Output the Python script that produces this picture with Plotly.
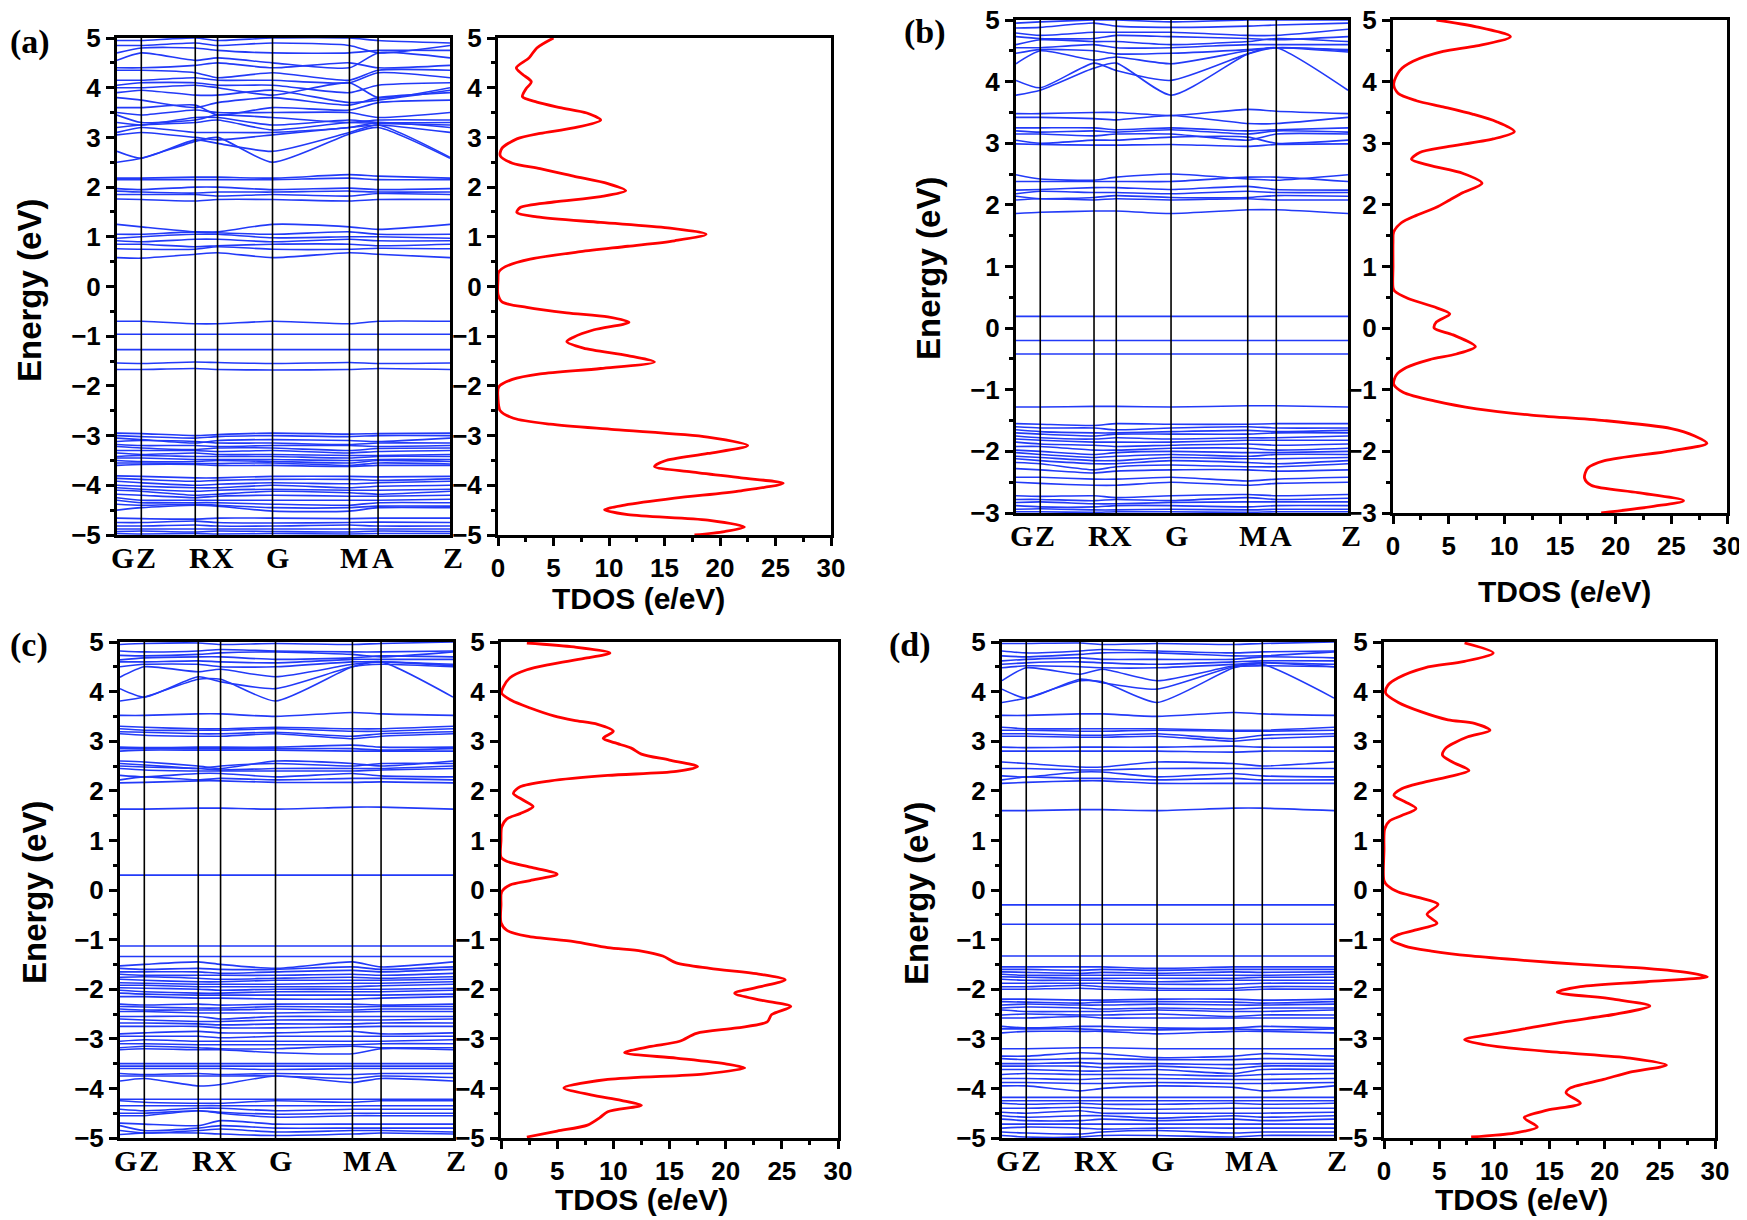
import plotly.graph_objects as go

W, H = 1747, 1220

# ---------------- data ----------------
K_POS = [0.0, 0.073, 0.235, 0.302, 0.467, 0.698, 0.784, 1.0]
K_LABELS = ["G", "Z", "R", "X", "G", "M", "A", "Z"]

BANDS_A = [
    [2.5, 2.58, 2.92, 3.0, 2.5, 3.07, 3.2, 2.58],
    [2.72, 2.58, 2.95, 2.88, 2.72, 3.1, 3.25, 2.6],
    [3.05, 3.1, 3.0, 2.95, 3.05, 3.2, 3.25, 3.1],
    [3.1, 3.2, 3.1, 3.1, 3.1, 3.2, 3.3, 3.2],
    [3.2, 3.25, 3.3, 3.35, 3.15, 3.3, 3.28, 3.25],
    [3.3, 3.25, 3.4, 3.4, 3.25, 3.35, 3.3, 3.3],
    [3.45, 3.3, 3.35, 3.45, 3.4, 3.3, 3.35, 3.35],
    [3.5, 3.45, 3.55, 3.5, 3.5, 3.5, 3.4, 3.5],
    [3.6, 3.6, 3.65, 3.45, 3.6, 3.55, 3.7, 3.75],
    [3.8, 3.75, 3.6, 3.7, 3.8, 3.65, 3.8, 3.9],
    [3.9, 3.95, 3.85, 3.85, 3.95, 3.7, 3.75, 3.95],
    [4.0, 4.0, 4.05, 4.0, 3.85, 4.1, 3.8, 4.0],
    [4.05, 4.1, 4.1, 4.05, 4.05, 3.9, 4.05, 4.1],
    [4.15, 4.15, 4.2, 4.15, 4.15, 4.1, 4.3, 4.2],
    [4.35, 4.35, 4.3, 4.2, 4.3, 4.15, 4.35, 4.35],
    [4.4, 4.4, 4.45, 4.5, 4.4, 4.5, 4.4, 4.45],
    [4.55, 4.7, 4.55, 4.6, 4.5, 4.4, 4.7, 4.6],
    [4.7, 4.8, 4.8, 4.75, 4.7, 4.7, 4.75, 4.75],
    [4.85, 4.85, 4.9, 4.85, 4.9, 4.85, 4.7, 4.85],
    [4.95, 4.95, 5.0, 4.95, 5.0, 5.0, 4.95, 4.9],
    [2.18, 2.18, 2.2, 2.2, 2.18, 2.25, 2.22, 2.18],
    [2.15, 2.15, 2.15, 2.15, 2.15, 2.18, 2.15, 2.15],
    [1.97, 1.95, 2.0, 2.0, 1.95, 1.98, 1.95, 1.97],
    [1.92, 1.9, 1.88, 1.9, 1.9, 1.92, 1.9, 1.9],
    [1.85, 1.85, 1.85, 1.82, 1.85, 1.82, 1.87, 1.85],
    [1.76, 1.75, 1.72, 1.75, 1.75, 1.72, 1.75, 1.75],
    [1.25, 1.2, 1.1, 1.1, 1.25, 1.2, 1.15, 1.25],
    [1.05, 1.05, 1.1, 1.08, 1.05, 1.1, 1.05, 1.05],
    [0.97, 1.0, 1.05, 1.05, 0.98, 1.0, 1.0, 0.97],
    [0.92, 0.9, 0.95, 0.95, 0.9, 0.95, 0.92, 0.92],
    [0.85, 0.85, 0.8, 0.82, 0.85, 0.85, 0.82, 0.85],
    [0.76, 0.75, 0.75, 0.8, 0.75, 0.75, 0.77, 0.76],
    [0.58, 0.57, 0.65, 0.68, 0.58, 0.68, 0.65, 0.58],
    [-0.7, -0.7, -0.75, -0.75, -0.7, -0.75, -0.7, -0.7],
    [-0.96, -0.96, -0.96, -0.96, -0.96, -0.96, -0.96, -0.96],
    [-1.27, -1.27, -1.27, -1.27, -1.27, -1.27, -1.27, -1.27],
    [-1.54, -1.55, -1.52, -1.53, -1.55, -1.53, -1.55, -1.54],
    [-1.67, -1.67, -1.65, -1.67, -1.68, -1.67, -1.65, -1.67],
    [-2.95, -2.96, -3.0, -2.98, -2.95, -2.97, -2.96, -2.95],
    [-3.0, -3.02, -3.05, -3.02, -3.0, -3.02, -3.0, -3.0],
    [-3.05, -3.08, -3.15, -3.1, -3.08, -3.1, -3.12, -3.05],
    [-3.12, -3.1, -3.12, -3.15, -3.15, -3.18, -3.15, -3.15],
    [-3.18, -3.2, -3.2, -3.22, -3.2, -3.2, -3.22, -3.2],
    [-3.22, -3.25, -3.28, -3.25, -3.25, -3.3, -3.26, -3.25],
    [-3.3, -3.3, -3.3, -3.32, -3.3, -3.35, -3.32, -3.3],
    [-3.35, -3.38, -3.35, -3.38, -3.38, -3.4, -3.4, -3.38],
    [-3.42, -3.4, -3.42, -3.42, -3.42, -3.45, -3.42, -3.42],
    [-3.45, -3.45, -3.48, -3.48, -3.48, -3.5, -3.48, -3.48],
    [-3.5, -3.52, -3.52, -3.5, -3.52, -3.55, -3.5, -3.52],
    [-3.55, -3.55, -3.56, -3.56, -3.55, -3.6, -3.55, -3.57],
    [-3.6, -3.58, -3.58, -3.6, -3.6, -3.62, -3.6, -3.6],
    [-3.81, -3.82, -3.85, -3.85, -3.82, -3.82, -3.83, -3.82],
    [-3.86, -3.88, -3.92, -3.9, -3.88, -3.88, -3.9, -3.87],
    [-3.92, -3.95, -4.0, -3.98, -3.95, -3.97, -3.95, -3.92],
    [-4.0, -4.02, -4.05, -4.05, -4.0, -4.05, -4.02, -4.0],
    [-4.05, -4.08, -4.12, -4.1, -4.08, -4.1, -4.1, -4.08],
    [-4.1, -4.12, -4.2, -4.18, -4.12, -4.15, -4.18, -4.12],
    [-4.18, -4.2, -4.25, -4.22, -4.2, -4.22, -4.22, -4.2],
    [-4.25, -4.3, -4.3, -4.3, -4.3, -4.3, -4.3, -4.28],
    [-4.3, -4.35, -4.35, -4.35, -4.38, -4.4, -4.35, -4.35],
    [-4.38, -4.4, -4.38, -4.4, -4.45, -4.45, -4.42, -4.42],
    [-4.5, -4.45, -4.4, -4.42, -4.52, -4.52, -4.45, -4.45],
    [-4.66, -4.67, -4.68, -4.66, -4.66, -4.67, -4.66, -4.66],
    [-4.75, -4.75, -4.72, -4.75, -4.76, -4.75, -4.74, -4.75],
    [-4.82, -4.82, -4.8, -4.82, -4.82, -4.8, -4.82, -4.82],
    [-4.88, -4.88, -4.88, -4.88, -4.88, -4.88, -4.88, -4.88],
    [-4.93, -4.92, -4.94, -4.92, -4.93, -4.94, -4.92, -4.93],
    [-4.97, -4.98, -4.97, -4.98, -4.97, -4.98, -4.97, -4.97],
]

BANDS_B = [
    [3.78, 3.86, 4.22, 4.3, 3.78, 4.45, 4.55, 3.86],
    [4.02, 3.9, 4.3, 4.18, 4.02, 4.45, 4.55, 4.5],
    [4.29, 4.5, 4.35, 4.4, 4.29, 4.5, 4.55, 4.48],
    [4.46, 4.52, 4.5, 4.45, 4.46, 4.52, 4.55, 4.52],
    [4.55, 4.55, 4.6, 4.55, 4.55, 4.6, 4.6, 4.6],
    [4.6, 4.68, 4.65, 4.65, 4.6, 4.65, 4.7, 4.65],
    [4.73, 4.7, 4.7, 4.75, 4.73, 4.7, 4.68, 4.73],
    [4.79, 4.75, 4.8, 4.8, 4.8, 4.75, 4.75, 4.85],
    [4.87, 4.88, 4.95, 4.9, 4.88, 4.9, 4.92, 4.95],
    [4.95, 4.97, 5.0, 5.0, 4.97, 5.0, 5.0, 5.0],
    [3.48, 3.48, 3.5, 3.5, 3.45, 3.55, 3.52, 3.48],
    [3.42, 3.42, 3.4, 3.38, 3.45, 3.32, 3.32, 3.42],
    [3.25, 3.25, 3.25, 3.22, 3.25, 3.2, 3.22, 3.25],
    [3.2, 3.18, 3.2, 3.18, 3.22, 3.15, 3.2, 3.18],
    [3.15, 3.15, 3.12, 3.15, 3.15, 3.05, 3.15, 3.15],
    [3.05, 3.0, 3.05, 3.05, 3.1, 3.1, 3.0, 3.05],
    [2.99, 2.98, 2.97, 2.97, 2.98, 2.95, 2.98, 2.99],
    [2.49, 2.42, 2.4, 2.45, 2.5, 2.42, 2.4, 2.49],
    [2.38, 2.38, 2.38, 2.38, 2.38, 2.45, 2.45, 2.38],
    [2.24, 2.25, 2.28, 2.28, 2.25, 2.3, 2.25, 2.24],
    [2.18, 2.22, 2.2, 2.2, 2.18, 2.22, 2.2, 2.2],
    [2.14, 2.1, 2.12, 2.15, 2.12, 2.12, 2.15, 2.14],
    [2.08, 2.1, 2.08, 2.1, 2.08, 2.1, 2.08, 2.08],
    [1.86, 1.88, 1.9, 1.9, 1.86, 1.92, 1.92, 1.86],
    [0.19, 0.19, 0.19, 0.19, 0.19, 0.19, 0.19, 0.19],
    [-0.2, -0.2, -0.2, -0.2, -0.2, -0.2, -0.2, -0.2],
    [-0.42, -0.42, -0.42, -0.42, -0.42, -0.42, -0.42, -0.42],
    [-1.28, -1.28, -1.27, -1.27, -1.28, -1.26, -1.26, -1.28],
    [-1.55, -1.56, -1.58, -1.55, -1.56, -1.56, -1.55, -1.55],
    [-1.6, -1.62, -1.62, -1.65, -1.62, -1.6, -1.62, -1.62],
    [-1.65, -1.68, -1.7, -1.7, -1.68, -1.66, -1.68, -1.66],
    [-1.7, -1.72, -1.75, -1.72, -1.72, -1.72, -1.7, -1.7],
    [-1.75, -1.78, -1.8, -1.78, -1.8, -1.78, -1.78, -1.75],
    [-1.8, -1.82, -1.85, -1.85, -1.85, -1.82, -1.82, -1.82],
    [-1.85, -1.88, -1.9, -1.92, -1.9, -1.88, -1.9, -1.88],
    [-1.92, -1.92, -1.98, -1.98, -1.95, -1.95, -1.98, -1.95],
    [-1.98, -2.0, -2.05, -2.02, -2.0, -2.02, -2.02, -2.0],
    [-2.02, -2.05, -2.1, -2.08, -2.05, -2.08, -2.05, -2.05],
    [-2.08, -2.1, -2.15, -2.15, -2.1, -2.12, -2.12, -2.1],
    [-2.12, -2.15, -2.2, -2.2, -2.15, -2.18, -2.2, -2.15],
    [-2.18, -2.2, -2.3, -2.25, -2.22, -2.25, -2.25, -2.2],
    [-2.28, -2.3, -2.35, -2.32, -2.3, -2.3, -2.32, -2.3],
    [-2.42, -2.42, -2.45, -2.45, -2.42, -2.48, -2.45, -2.42],
    [-2.5, -2.52, -2.55, -2.55, -2.5, -2.55, -2.52, -2.5],
    [-2.72, -2.73, -2.72, -2.75, -2.72, -2.7, -2.72, -2.7],
    [-2.78, -2.78, -2.8, -2.78, -2.8, -2.75, -2.78, -2.76],
    [-2.83, -2.82, -2.85, -2.85, -2.83, -2.82, -2.82, -2.82],
    [-2.88, -2.9, -2.9, -2.88, -2.88, -2.9, -2.88, -2.88],
    [-2.94, -2.93, -2.95, -2.95, -2.94, -2.95, -2.94, -2.94],
    [-2.98, -2.98, -2.99, -2.98, -2.98, -2.99, -2.98, -2.98],
]

BANDS_C = [
    [3.81, 3.89, 4.25, 4.25, 3.81, 4.5, 4.6, 3.89],
    [4.06, 3.89, 4.3, 4.2, 4.06, 4.5, 4.55, 4.5],
    [4.29, 4.5, 4.4, 4.45, 4.3, 4.55, 4.6, 4.52],
    [4.5, 4.55, 4.55, 4.5, 4.5, 4.6, 4.6, 4.55],
    [4.6, 4.6, 4.62, 4.6, 4.58, 4.65, 4.65, 4.65],
    [4.64, 4.68, 4.7, 4.7, 4.65, 4.68, 4.72, 4.7],
    [4.73, 4.72, 4.75, 4.78, 4.8, 4.75, 4.7, 4.8],
    [4.82, 4.8, 4.82, 4.85, 4.82, 4.8, 4.8, 4.82],
    [4.95, 4.97, 4.98, 4.95, 4.97, 4.95, 4.97, 5.0],
    [3.52, 3.52, 3.55, 3.55, 3.5, 3.58, 3.55, 3.52],
    [3.3, 3.28, 3.25, 3.25, 3.28, 3.25, 3.25, 3.3],
    [3.25, 3.22, 3.22, 3.22, 3.25, 3.2, 3.2, 3.25],
    [3.19, 3.18, 3.15, 3.15, 3.18, 3.1, 3.15, 3.19],
    [3.15, 3.12, 3.1, 3.1, 3.15, 3.05, 3.1, 3.15],
    [2.88, 2.87, 2.88, 2.88, 2.88, 2.92, 2.88, 2.88],
    [2.85, 2.85, 2.85, 2.85, 2.85, 2.85, 2.82, 2.85],
    [2.8, 2.82, 2.82, 2.82, 2.82, 2.8, 2.8, 2.8],
    [2.6, 2.58, 2.5, 2.45, 2.6, 2.55, 2.5, 2.6],
    [2.55, 2.52, 2.45, 2.5, 2.55, 2.5, 2.55, 2.55],
    [2.5, 2.48, 2.45, 2.42, 2.45, 2.45, 2.45, 2.5],
    [2.45, 2.42, 2.4, 2.4, 2.4, 2.4, 2.42, 2.45],
    [2.31, 2.28, 2.35, 2.35, 2.28, 2.35, 2.3, 2.28],
    [2.22, 2.28, 2.22, 2.25, 2.22, 2.25, 2.25, 2.22],
    [2.16, 2.17, 2.2, 2.2, 2.17, 2.17, 2.18, 2.16],
    [1.63, 1.63, 1.65, 1.65, 1.63, 1.67, 1.67, 1.63],
    [0.3, 0.3, 0.3, 0.3, 0.3, 0.3, 0.3, 0.3],
    [-1.13, -1.13, -1.13, -1.13, -1.13, -1.13, -1.13, -1.13],
    [-1.34, -1.34, -1.34, -1.34, -1.34, -1.34, -1.34, -1.34],
    [-1.53, -1.5, -1.45, -1.5, -1.58, -1.45, -1.55, -1.45],
    [-1.58, -1.6, -1.58, -1.6, -1.6, -1.55, -1.6, -1.55],
    [-1.65, -1.65, -1.65, -1.68, -1.65, -1.62, -1.65, -1.6],
    [-1.7, -1.72, -1.72, -1.72, -1.72, -1.7, -1.72, -1.68],
    [-1.76, -1.75, -1.78, -1.8, -1.78, -1.76, -1.78, -1.75],
    [-1.8, -1.82, -1.85, -1.85, -1.82, -1.82, -1.82, -1.8],
    [-1.87, -1.88, -1.9, -1.9, -1.9, -1.88, -1.88, -1.85],
    [-1.92, -1.92, -1.95, -1.95, -1.95, -1.95, -1.93, -1.9],
    [-1.97, -1.98, -2.0, -2.02, -2.0, -2.0, -2.0, -1.98],
    [-2.02, -2.05, -2.08, -2.08, -2.05, -2.05, -2.05, -2.02],
    [-2.08, -2.1, -2.12, -2.12, -2.12, -2.12, -2.12, -2.1],
    [-2.15, -2.15, -2.18, -2.18, -2.2, -2.2, -2.18, -2.15],
    [-2.3, -2.32, -2.3, -2.32, -2.3, -2.3, -2.32, -2.3],
    [-2.35, -2.36, -2.38, -2.38, -2.35, -2.36, -2.35, -2.35],
    [-2.4, -2.42, -2.42, -2.42, -2.4, -2.42, -2.4, -2.4],
    [-2.45, -2.45, -2.48, -2.48, -2.48, -2.46, -2.45, -2.45],
    [-2.55, -2.55, -2.55, -2.6, -2.55, -2.55, -2.55, -2.55],
    [-2.6, -2.62, -2.65, -2.65, -2.62, -2.62, -2.62, -2.6],
    [-2.68, -2.68, -2.7, -2.72, -2.7, -2.7, -2.68, -2.68],
    [-2.75, -2.75, -2.75, -2.78, -2.78, -2.76, -2.75, -2.75],
    [-2.9, -2.88, -2.85, -2.88, -2.88, -2.85, -2.9, -2.88],
    [-2.95, -2.95, -2.95, -2.98, -2.95, -2.95, -2.95, -2.95],
    [-3.05, -3.02, -3.05, -3.05, -3.05, -3.05, -3.05, -3.02],
    [-3.1, -3.1, -3.12, -3.12, -3.12, -3.12, -3.1, -3.1],
    [-3.18, -3.15, -3.18, -3.2, -3.2, -3.15, -3.18, -3.18],
    [-3.22, -3.2, -3.22, -3.22, -3.28, -3.3, -3.2, -3.22],
    [-3.5, -3.5, -3.5, -3.5, -3.5, -3.5, -3.5, -3.5],
    [-3.55, -3.55, -3.55, -3.55, -3.55, -3.55, -3.55, -3.55],
    [-3.6, -3.6, -3.6, -3.6, -3.62, -3.6, -3.6, -3.6],
    [-3.7, -3.72, -3.7, -3.72, -3.7, -3.72, -3.7, -3.7],
    [-3.75, -3.75, -3.75, -3.75, -3.75, -3.8, -3.75, -3.78],
    [-3.85, -3.8, -3.95, -3.92, -3.75, -3.88, -3.8, -3.85],
    [-4.22, -4.22, -4.22, -4.22, -4.22, -4.22, -4.22, -4.22],
    [-4.25, -4.28, -4.3, -4.3, -4.25, -4.28, -4.25, -4.25],
    [-4.35, -4.35, -4.35, -4.35, -4.35, -4.35, -4.35, -4.35],
    [-4.42, -4.45, -4.4, -4.4, -4.45, -4.42, -4.42, -4.42],
    [-4.5, -4.5, -4.45, -4.48, -4.52, -4.5, -4.5, -4.5],
    [-4.55, -4.55, -4.45, -4.5, -4.58, -4.55, -4.55, -4.55],
    [-4.7, -4.72, -4.75, -4.65, -4.72, -4.72, -4.72, -4.72],
    [-4.75, -4.85, -4.8, -4.75, -4.8, -4.8, -4.8, -4.8],
    [-4.85, -4.9, -4.85, -4.82, -4.88, -4.85, -4.85, -4.88],
    [-4.93, -4.9, -4.9, -4.92, -4.95, -4.92, -4.9, -4.92],
]

BANDS_D = [
    [3.78, 3.87, 4.22, 4.2, 3.78, 4.48, 4.55, 3.87],
    [4.05, 3.87, 4.25, 4.18, 4.05, 4.5, 4.52, 4.5],
    [4.22, 4.48, 4.35, 4.45, 4.22, 4.52, 4.58, 4.5],
    [4.48, 4.52, 4.5, 4.48, 4.48, 4.55, 4.58, 4.55],
    [4.55, 4.58, 4.6, 4.58, 4.55, 4.6, 4.62, 4.62],
    [4.62, 4.65, 4.68, 4.65, 4.65, 4.65, 4.7, 4.68],
    [4.72, 4.7, 4.75, 4.78, 4.78, 4.72, 4.72, 4.8],
    [4.82, 4.78, 4.82, 4.85, 4.82, 4.78, 4.8, 4.82],
    [4.97, 4.97, 4.98, 4.95, 4.97, 4.95, 4.97, 5.0],
    [3.52, 3.52, 3.55, 3.55, 3.5, 3.58, 3.55, 3.52],
    [3.28, 3.25, 3.25, 3.25, 3.25, 3.22, 3.22, 3.28],
    [3.22, 3.22, 3.2, 3.2, 3.22, 3.2, 3.2, 3.22],
    [3.15, 3.15, 3.12, 3.12, 3.15, 3.05, 3.12, 3.15],
    [3.1, 3.1, 3.08, 3.08, 3.1, 3.0, 3.05, 3.1],
    [2.88, 2.87, 2.88, 2.88, 2.88, 2.9, 2.88, 2.88],
    [2.8, 2.8, 2.8, 2.8, 2.8, 2.78, 2.8, 2.8],
    [2.58, 2.55, 2.48, 2.48, 2.58, 2.55, 2.5, 2.58],
    [2.45, 2.45, 2.42, 2.42, 2.45, 2.45, 2.45, 2.45],
    [2.3, 2.28, 2.38, 2.38, 2.28, 2.35, 2.3, 2.28],
    [2.22, 2.28, 2.25, 2.25, 2.22, 2.25, 2.22, 2.22],
    [2.15, 2.17, 2.2, 2.2, 2.15, 2.15, 2.15, 2.15],
    [1.6, 1.6, 1.62, 1.62, 1.6, 1.65, 1.65, 1.6],
    [-0.3, -0.3, -0.3, -0.3, -0.3, -0.3, -0.3, -0.3],
    [-0.69, -0.69, -0.69, -0.69, -0.69, -0.69, -0.69, -0.69],
    [-1.33, -1.33, -1.33, -1.33, -1.33, -1.33, -1.33, -1.33],
    [-1.55, -1.55, -1.55, -1.55, -1.58, -1.55, -1.55, -1.55],
    [-1.6, -1.6, -1.62, -1.6, -1.62, -1.6, -1.6, -1.6],
    [-1.65, -1.66, -1.68, -1.66, -1.68, -1.65, -1.66, -1.65],
    [-1.7, -1.72, -1.72, -1.72, -1.72, -1.72, -1.72, -1.7],
    [-1.75, -1.76, -1.78, -1.78, -1.78, -1.78, -1.76, -1.76],
    [-1.8, -1.82, -1.82, -1.82, -1.85, -1.82, -1.82, -1.82],
    [-1.88, -1.88, -1.88, -1.88, -1.9, -1.9, -1.88, -1.88],
    [-1.95, -1.95, -1.92, -1.95, -1.98, -1.98, -1.95, -1.95],
    [-2.0, -2.0, -1.98, -2.0, -2.02, -2.02, -2.0, -2.0],
    [-2.2, -2.2, -2.22, -2.22, -2.2, -2.2, -2.22, -2.2],
    [-2.25, -2.26, -2.28, -2.26, -2.25, -2.26, -2.28, -2.25],
    [-2.32, -2.3, -2.32, -2.32, -2.3, -2.32, -2.32, -2.3],
    [-2.38, -2.36, -2.38, -2.4, -2.38, -2.4, -2.38, -2.38],
    [-2.42, -2.45, -2.45, -2.45, -2.42, -2.45, -2.45, -2.42],
    [-2.52, -2.5, -2.52, -2.52, -2.5, -2.55, -2.52, -2.52],
    [-2.58, -2.58, -2.55, -2.58, -2.58, -2.58, -2.58, -2.58],
    [-2.75, -2.78, -2.75, -2.75, -2.78, -2.78, -2.75, -2.78],
    [-2.8, -2.8, -2.8, -2.82, -2.82, -2.8, -2.82, -2.8],
    [-2.88, -2.85, -2.85, -2.85, -2.9, -2.85, -2.85, -2.88],
    [-3.2, -3.2, -3.18, -3.18, -3.2, -3.2, -3.2, -3.2],
    [-3.35, -3.35, -3.28, -3.3, -3.38, -3.35, -3.3, -3.35],
    [-3.4, -3.42, -3.4, -3.4, -3.42, -3.42, -3.4, -3.42],
    [-3.5, -3.5, -3.48, -3.5, -3.5, -3.52, -3.5, -3.5],
    [-3.55, -3.55, -3.55, -3.58, -3.55, -3.6, -3.55, -3.55],
    [-3.62, -3.62, -3.65, -3.65, -3.62, -3.7, -3.62, -3.62],
    [-3.72, -3.7, -3.72, -3.72, -3.72, -3.75, -3.72, -3.7],
    [-3.8, -3.8, -3.82, -3.8, -3.8, -3.82, -3.82, -3.8],
    [-3.88, -3.88, -3.9, -3.9, -3.88, -3.9, -3.9, -3.88],
    [-3.95, -3.95, -4.05, -4.0, -3.95, -3.98, -4.05, -3.95],
    [-4.18, -4.18, -4.18, -4.18, -4.18, -4.18, -4.18, -4.18],
    [-4.25, -4.25, -4.25, -4.25, -4.25, -4.25, -4.25, -4.25],
    [-4.3, -4.32, -4.3, -4.32, -4.32, -4.3, -4.32, -4.3],
    [-4.4, -4.4, -4.38, -4.4, -4.42, -4.4, -4.4, -4.4],
    [-4.48, -4.5, -4.45, -4.5, -4.5, -4.5, -4.5, -4.48],
    [-4.55, -4.58, -4.55, -4.55, -4.6, -4.55, -4.58, -4.55],
    [-4.62, -4.65, -4.65, -4.62, -4.65, -4.62, -4.65, -4.62],
    [-4.72, -4.72, -4.72, -4.72, -4.72, -4.72, -4.72, -4.72],
    [-4.8, -4.78, -4.8, -4.82, -4.8, -4.8, -4.8, -4.8],
    [-4.88, -4.9, -4.92, -4.88, -4.85, -4.9, -4.88, -4.88],
    [-4.95, -4.98, -4.98, -4.95, -4.95, -4.98, -4.95, -4.95],
]

DOS_A_E = [5.0, 4.8, 4.6, 4.4, 4.27, 4.12, 3.97, 3.82, 3.71, 3.6, 3.49, 3.35, 3.19, 3.08, 2.97,
           2.78, 2.63, 2.48, 2.37, 2.22, 2.07, 1.93, 1.81, 1.7, 1.59, 1.49, 1.4, 1.29, 1.18, 1.05,
           0.92, 0.81, 0.7, 0.55, 0.4, 0.29, 0.14, -0.16, -0.31, -0.42, -0.53, -0.61, -0.72, -0.87,
           -1.02, -1.11, -1.24, -1.39, -1.52, -1.65, -1.76, -1.87, -2.02, -2.25, -2.5, -2.65, -2.77,
           -2.88, -3.03, -3.2, -3.36, -3.51, -3.62, -3.73, -3.85, -3.96, -4.11, -4.26, -4.4, -4.49,
           -4.59, -4.7, -4.84, -4.93, -5.0]
DOS_A_V = [5.0, 3.5, 2.8, 1.65, 2.2, 3.0, 2.5, 2.2, 3.5, 5.6, 8.0, 9.25, 6.8, 3.8, 1.7,
           0.35, 0.2, 1.3, 3.8, 6.8, 9.9, 11.5, 9.25, 5.0, 2.0, 1.7, 3.5, 9.25, 15.3, 18.75,
           15.9, 11.7, 7.4, 2.9, 0.66, 0.06, 0.0, 0.0, 0.36, 2.6, 6.2, 9.9, 11.8, 8.65,
           6.8, 6.2, 7.7, 11.7, 14.1, 9.25, 3.8, 1.3, 0.06, 0.0, 0.2, 1.4, 4.7,
           10.5, 18.9, 22.5, 18.9, 15.0, 14.1, 17.4, 21.9, 25.7, 21.9, 15.9, 11.4, 9.6,
           11.7, 18.9, 22.2, 20.4, 17.7]

DOS_B_E = [5.0, 4.89, 4.73, 4.58, 4.49, 4.33, 4.18, 3.96, 3.81, 3.69, 3.59, 3.47, 3.35, 3.19,
           3.07, 2.94, 2.85, 2.74, 2.64, 2.51, 2.35, 2.2, 2.08, 1.96, 1.83, 1.71, 1.56, 1.4, 1.0,
           0.66, 0.6, 0.48, 0.35, 0.23, 0.1, 0.0, -0.11, -0.3, -0.42, -0.51, -0.64, -0.76, -0.91,
           -1.04, -1.19, -1.31, -1.41, -1.5, -1.63, -1.75, -1.87, -1.99, -2.15, -2.27, -2.43, -2.55,
           -2.67, -2.8, -2.89, -3.0]
DOS_B_V = [3.9, 7.5, 10.55, 7.5, 4.5, 1.8, 0.6, 0.06, 0.45, 2.1, 4.5, 7.2, 9.3, 10.9,
           9.0, 4.8, 2.4, 1.66, 3.3, 6.3, 8.0, 6.3, 5.1, 3.9, 2.1, 0.75, 0.06, 0.0, 0.0,
           0.0, 0.15, 1.36, 3.6, 5.1, 3.9, 3.7, 5.4, 7.4, 5.7, 3.3, 1.2, 0.3, 0.06,
           0.9, 3.9, 7.5, 12.4, 19.0, 25.0, 27.1, 28.2, 25.0, 19.0, 17.5, 17.2, 17.8,
           22.0, 26.1, 23.5, 18.7]

DOS_C_E = [4.98, 4.9, 4.78, 4.67, 4.55, 4.44, 4.28, 4.09, 3.97, 3.82, 3.67, 3.51, 3.42, 3.34,
           3.2, 3.06, 2.97, 2.86, 2.74, 2.62, 2.49, 2.39, 2.31, 2.2, 2.08, 1.95, 1.81, 1.68, 1.54,
           1.43, 1.27, 1.0, 0.66, 0.58, 0.46, 0.32, 0.19, 0.1, -0.04, -0.3, -0.66, -0.81, -0.93,
           -1.04, -1.16, -1.23, -1.33, -1.47, -1.58, -1.7, -1.81, -1.95, -2.08, -2.22, -2.35, -2.51,
           -2.66, -2.78, -2.89, -3.05, -3.16, -3.28, -3.39, -3.51, -3.59, -3.71, -3.82, -3.99, -4.13,
           -4.24, -4.34, -4.47, -4.59, -4.74, -4.86, -4.98]
DOS_C_V = [2.3, 6.5, 9.7, 7.4, 4.4, 2.3, 0.8, 0.2, 0.06, 0.96, 2.6, 4.7, 6.5, 8.6,
           10.0, 9.1, 10.1, 11.6, 12.5, 15.0, 17.5, 15.6, 9.5, 4.4, 1.7, 1.1, 2.0, 2.86, 1.7,
           0.5, 0.06, 0.0, 0.0, 0.5, 2.6, 5.0, 2.6, 0.8, 0.06, 0.0, 0.0, 0.5, 2.3,
           6.5, 9.5, 12.5, 14.4, 15.6, 18.6, 23.1, 25.3, 23.1, 20.8, 23.1, 25.8, 24.1,
           23.7, 21.0, 17.4, 15.9, 13.2, 11.0, 15.6, 20.1, 21.7, 18.0, 9.5, 5.6, 8.0,
           10.7, 12.5, 9.5, 8.8, 7.7, 5.0, 2.3]

DOS_D_E = [4.98, 4.78, 4.61, 4.48, 4.28, 4.13, 3.97, 3.78, 3.59, 3.43, 3.36, 3.22, 3.09, 2.97,
           2.86, 2.72, 2.58, 2.41, 2.28, 2.16, 2.04, 1.91, 1.78, 1.64, 1.5, 1.39, 1.23, 0.8, 0.19,
           0.08, -0.04, -0.15, -0.29, -0.49, -0.67, -0.81, -0.9, -1.0, -1.13, -1.23, -1.33, -1.43,
           -1.5, -1.58, -1.67, -1.75, -1.85, -1.95, -2.06, -2.2, -2.34, -2.51, -2.66, -2.8, -2.89,
           -3.02, -3.16, -3.28, -3.39, -3.53, -3.67, -3.82, -3.99, -4.09, -4.3, -4.44, -4.59, -4.78,
           -4.9, -4.98]
DOS_D_V = [7.3, 9.9, 7.3, 3.7, 1.3, 0.36, 0.15, 1.3, 3.4, 5.8, 8.2, 9.6, 7.6, 6.4,
           5.6, 5.3, 6.2, 7.7, 5.8, 3.4, 1.6, 0.9, 1.9, 2.9, 1.6, 0.5, 0.06, 0.0, 0.0,
           0.36, 1.3, 3.1, 4.9, 3.9, 4.8, 2.8, 1.3, 0.66, 1.9, 4.3, 7.9, 13.3,
           17.8, 23.8, 27.7, 29.3, 23.8, 17.8, 15.7, 20.8, 24.1, 20.8, 16.3, 12.7, 10.3,
           7.3, 10.3, 16.3, 22.3, 25.6, 22.3, 19.9, 16.9, 16.5, 17.8, 14.8, 12.7, 13.9,
           11.8, 7.9]

DOS_TICKS = [0, 5, 10, 15, 20, 25, 30]

# ---------------- styling / layout ----------------
BLUE = "rgb(34,58,248)"
RED = "rgb(255,0,0)"
TICKFONT = dict(family="Liberation Sans, Arial, sans-serif", size=26, color="black", weight="bold")
ETITLEFONT = dict(family="Liberation Sans, Arial, sans-serif", size=33, color="black", weight="bold")
TTITLEFONT = dict(family="Liberation Sans, Arial, sans-serif", size=30, color="black", weight="bold")
KFONT = dict(family="Liberation Serif, Times New Roman, serif", size=30, color="black", weight="bold")
LABFONT = dict(family="Liberation Serif, Times New Roman, serif", size=34, color="black", weight="bold")

# page pixel positions (the figure sits 8 px inside the page because of the body margin)
PAGE_OFF = 8

panels = [
    dict(tag="(a)", bands=BANDS_A, de=DOS_A_E, dv=DOS_A_V, yr=[-5, 5],
         bx=(117, 450), dx=(498, 831), yy=(38, 535),
         lab=(8, 42), et=(29, 291), tt=(638, 598)),
    dict(tag="(b)", bands=BANDS_B, de=DOS_B_E, dv=DOS_B_V, yr=[-3, 5],
         bx=(1016, 1348), dx=(1393, 1727), yy=(20, 513),
         lab=(902, 32), et=(928, 269), tt=(1564, 591)),
    dict(tag="(c)", bands=BANDS_C, de=DOS_C_E, dv=DOS_C_V, yr=[-5, 5],
         bx=(120, 453), dx=(501, 838), yy=(642, 1138),
         lab=(8, 645), et=(34, 893), tt=(641, 1199)),
    dict(tag="(d)", bands=BANDS_D, de=DOS_D_E, dv=DOS_D_V, yr=[-5, 5],
         bx=(1002, 1334), dx=(1384, 1715), yy=(642, 1138),
         lab=(887, 645), et=(916, 894), tt=(1521, 1199)),
]

K_XSHIFT = [5, 5, 5, 5, 5, 5, 5, 3]


def px_x(v):
    return (v - PAGE_OFF) / W


def px_y(v):
    return 1 - (v - PAGE_OFF) / H


def ax_id(n):
    return "" if n == 1 else str(n)


base_axis = dict(showline=True, linecolor="black", linewidth=3, mirror=True,
                 showgrid=False, zeroline=False, tickfont=TICKFONT, automargin=False,
                 ticklabeloverflow="allow",
                 ticks="outside", ticklen=8, tickwidth=2.5, tickcolor="black")

fig = go.Figure()
layout = dict(width=W, height=H, autosize=False,
              margin=dict(l=0, r=0, t=0, b=0, pad=0, autoexpand=False),
              paper_bgcolor="white", plot_bgcolor="white", showlegend=False)
annotations = []
shapes = []

for i, p in enumerate(panels):
    nb = 2 * i + 1
    nd = 2 * i + 2
    xb, yb = "x" + ax_id(nb), "y" + ax_id(nb)
    xd, yd = "x" + ax_id(nd), "y" + ax_id(nd)
    ydom = [px_y(p["yy"][1]), px_y(p["yy"][0])]

    xs, ys = [], []
    for band in p["bands"]:
        xs += K_POS + [None]
        ys += band + [None]
    fig.add_trace(go.Scatter(x=xs, y=ys, mode="lines", xaxis=xb, yaxis=yb,
                             line=dict(color=BLUE, width=1.6, shape="spline", smoothing=0.6),
                             hoverinfo="skip"))
    fig.add_trace(go.Scatter(x=p["dv"], y=p["de"], mode="lines", xaxis=xd, yaxis=yd,
                             line=dict(color=RED, width=2.8, shape="spline", smoothing=0.8),
                             hoverinfo="skip"))

    minor_y = dict(ticks="outside", ticklen=4, tickwidth=2.5, tickcolor="black", dtick=0.5)
    layout["xaxis" + ax_id(nb)] = dict(base_axis, domain=[px_x(p["bx"][0]), px_x(p["bx"][1])],
                                       range=[0, 1], ticks="", showticklabels=False, anchor=yb)
    layout["yaxis" + ax_id(nb)] = dict(base_axis, domain=ydom, range=p["yr"], dtick=1,
                                       anchor=xb, minor=minor_y)
    layout["xaxis" + ax_id(nd)] = dict(base_axis, domain=[px_x(p["dx"][0]), px_x(p["dx"][1])],
                                       range=[0, 30], tickvals=DOS_TICKS, anchor=yd,
                                       minor=dict(ticks="outside", ticklen=4, tickwidth=2.5,
                                                  tickcolor="black", dtick=2.5))
    layout["yaxis" + ax_id(nd)] = dict(base_axis, domain=ydom, range=p["yr"], dtick=1,
                                       anchor=xd, minor=minor_y)

    for k in K_POS[1:-1]:
        shapes.append(dict(type="line", xref=xb, yref=yb + " domain", x0=k, x1=k, y0=0, y1=1,
                           line=dict(color="black", width=1.6), layer="above"))
    for k, lab, sh in zip(K_POS, K_LABELS, K_XSHIFT):
        annotations.append(dict(x=k, y=px_y(p["yy"][1] + 22), xref=xb, yref="paper",
                                text=lab, showarrow=False, font=KFONT, xshift=sh,
                                xanchor="center", yanchor="middle"))
    annotations.append(dict(x=px_x(p["lab"][0]), y=px_y(p["lab"][1]), xref="paper", yref="paper",
                            text=p["tag"], showarrow=False, font=LABFONT,
                            xanchor="left", yanchor="middle"))
    annotations.append(dict(x=px_x(p["et"][0]), y=px_y(p["et"][1]), xref="paper", yref="paper",
                            text="Energy (eV)", textangle=-90, showarrow=False, font=ETITLEFONT,
                            xanchor="center", yanchor="middle"))
    annotations.append(dict(x=px_x(p["tt"][0]), y=px_y(p["tt"][1]), xref="paper", yref="paper",
                            text="TDOS (e/eV)", showarrow=False, font=TTITLEFONT,
                            xanchor="center", yanchor="middle"))

layout["annotations"] = annotations
layout["shapes"] = shapes
fig.update_layout(**layout)
fig.write_html("out.html")
